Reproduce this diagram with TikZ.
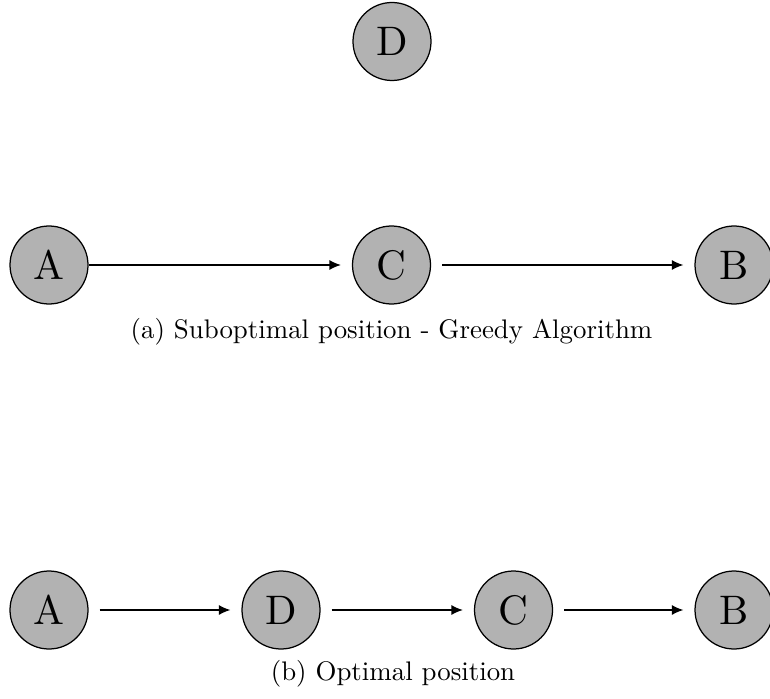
\documentclass[tikz,border=0pt]{standalone}
\usepackage{graphicx}
\usetikzlibrary{arrows.meta}

\newcommand{\vlabel}[1]{\scalebox{1.65}{#1}}
\newcommand{\caplabel}[1]{\scalebox{1.075}{#1}}

\tikzset{every picture/.style={line width=0.5pt}}
\tikzset{vertex/.style={circle,draw,fill=black!30,minimum size=31.2pt,inner sep=0pt}}
\tikzset{edge/.style={-{Latex[length=4.6pt,width=4pt]},shorten >=4.4pt}}

\begin{document}
\begin{tikzpicture}[x=0.4pt,y=0.4pt,yscale=-1,xscale=1]
\useasboundingbox (0,0) rectangle (770,698);

% (a) greedy
\node [vertex] (Dtop) at (392,41.5) {\vlabel{D}};
\node [vertex] (Atop) at (49,265) {\vlabel{A}};
\node [vertex] (Ctop) at (391.5,265) {\vlabel{C}};
\node [vertex] (Btop) at (734,265) {\vlabel{B}};
\draw [edge] (Atop) -- (Ctop);
\draw [edge,shorten <=4.4pt] (Ctop) -- (Btop);
\node (capa) at (391.5,332) {\caplabel{(a) Suboptimal position - Greedy Algorithm}};

% (b) optimal
\node [vertex] (Abot) at (49,610) {\vlabel{A}};
\node [vertex] (Dbot) at (281,610) {\vlabel{D}};
\node [vertex] (Cbot) at (513.5,610) {\vlabel{C}};
\node [vertex] (Bbot) at (734,610) {\vlabel{B}};
\draw [edge,shorten <=4.4pt] (Abot) -- (Dbot);
\draw [edge,shorten <=4.4pt] (Dbot) -- (Cbot);
\draw [edge,shorten <=4.4pt] (Cbot) -- (Bbot);
\node (capb) at (393,674) {\caplabel{(b) Optimal position}};

\end{tikzpicture}
\end{document}
